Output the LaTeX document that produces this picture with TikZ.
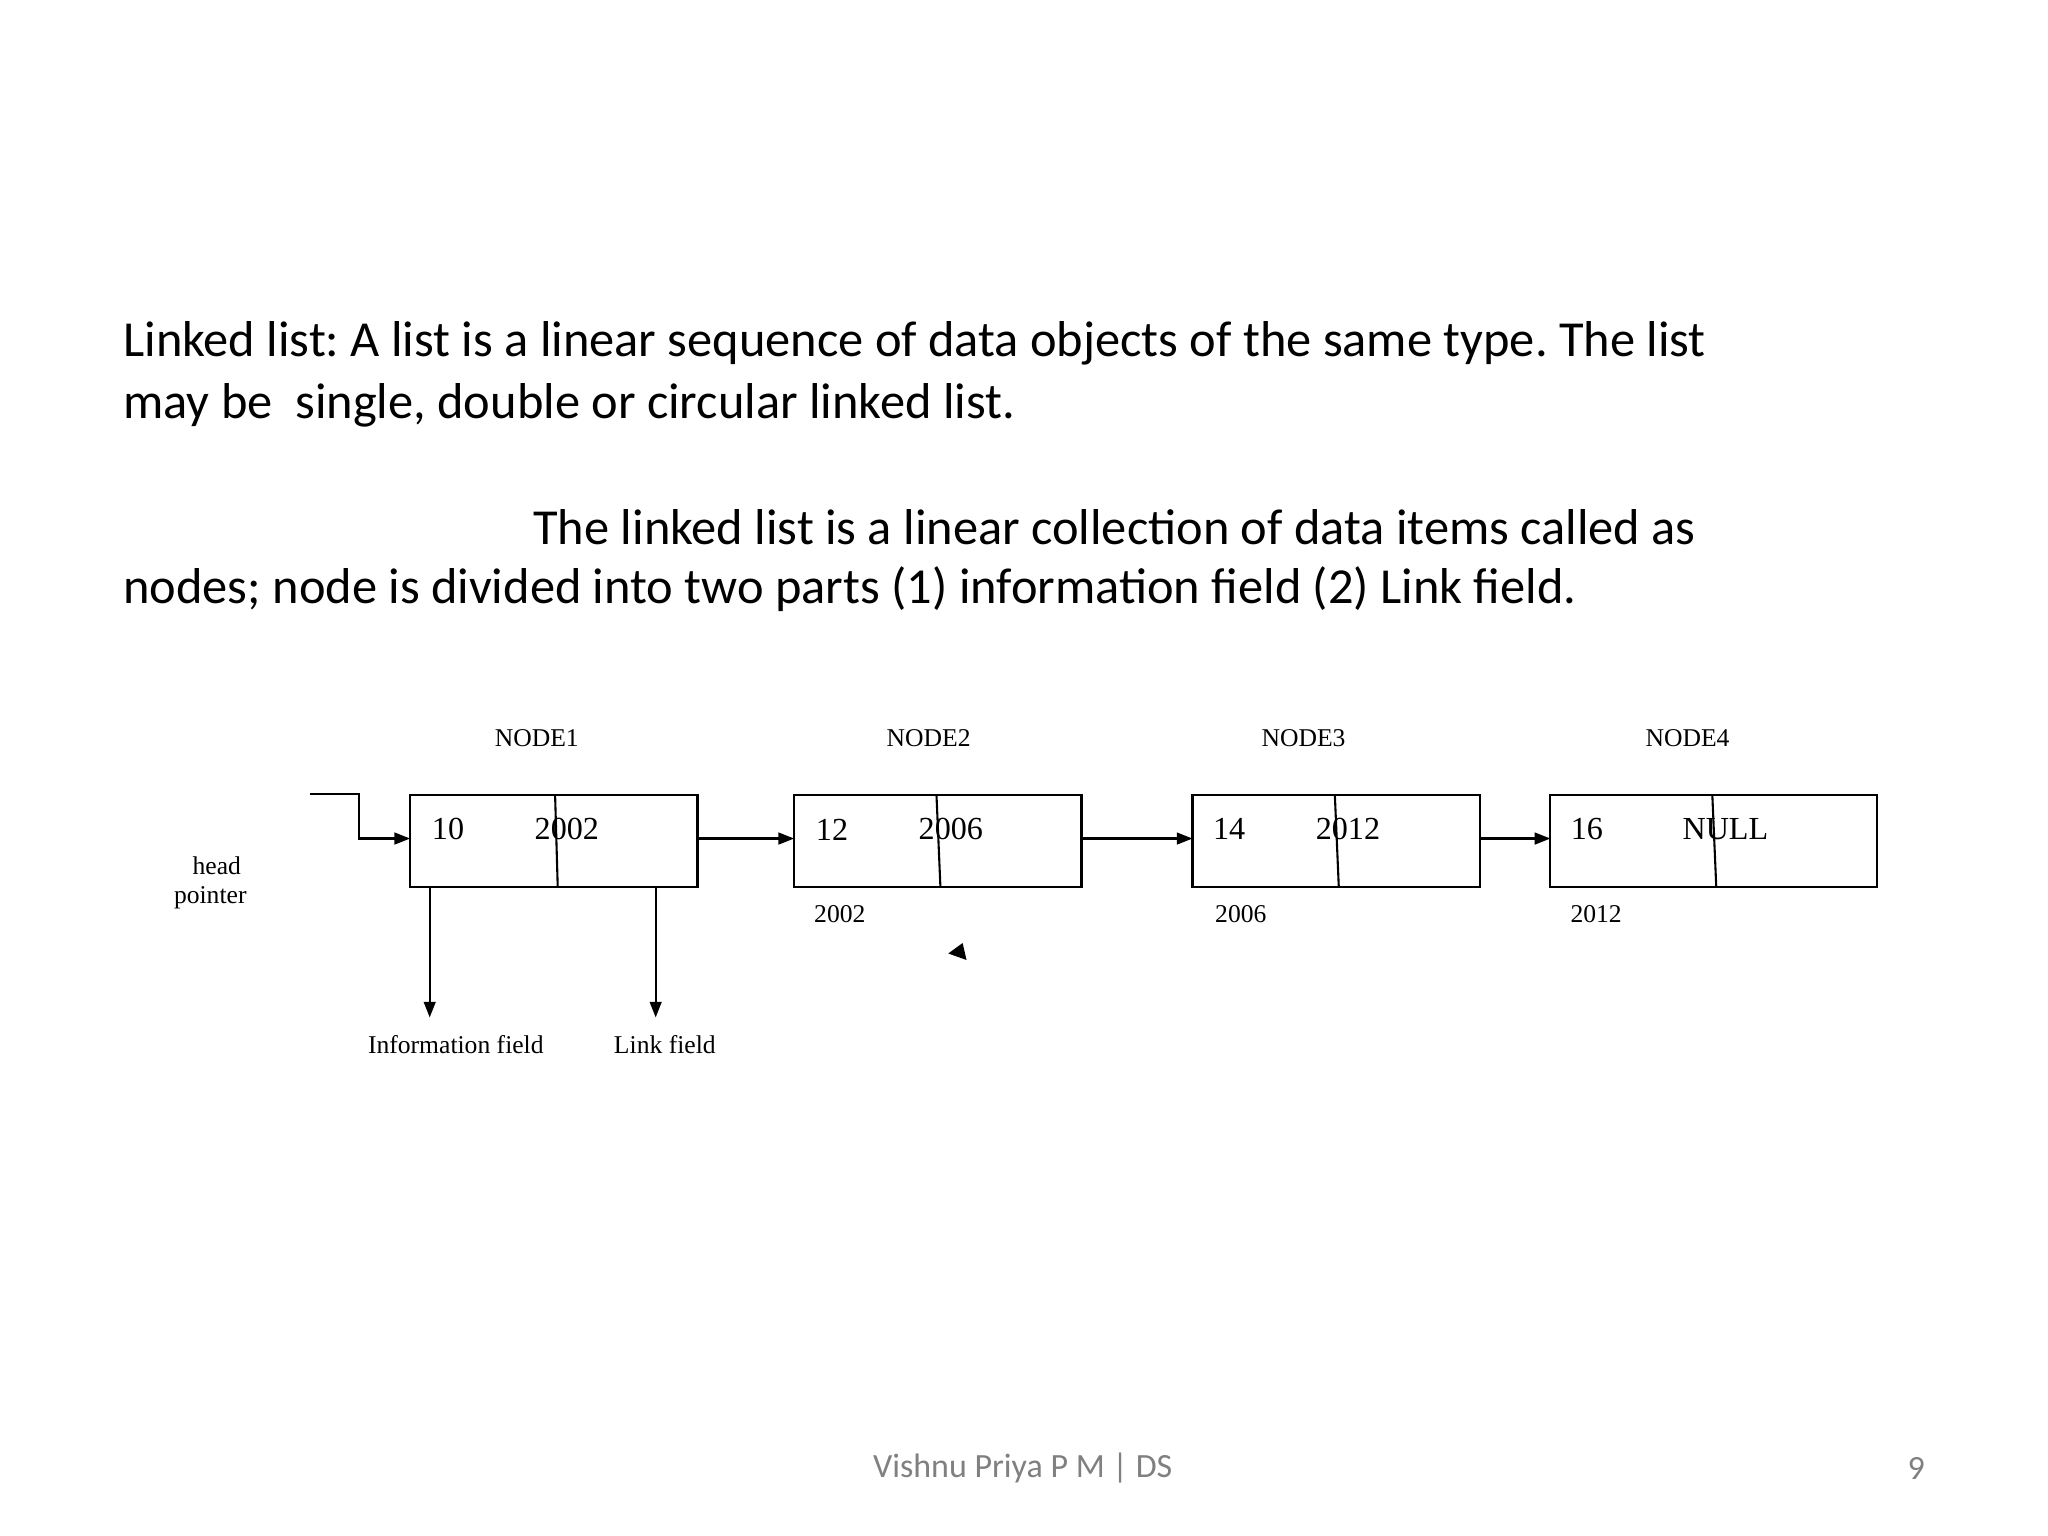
\documentclass[tikz,border=0pt]{standalone}
\usepackage{fontspec}
\setmainfont{Carlito}
\newfontfamily\tms{Liberation Serif}
\usetikzlibrary{arrows.meta}
\begin{document}
\frenchspacing
\begin{tikzpicture}[x=0.5pt,y=-0.5pt,
  body/.style={anchor=west,inner sep=0,font=\fontsize{19.3}{20}\selectfont},
  sm/.style={inner sep=0,font=\tms\fontsize{9.8}{10}\selectfont},
  big/.style={inner sep=0,font=\tms\fontsize{12.3}{13}\selectfont},
  box/.style={draw,line width=0.8pt},
  arr/.style={-{Triangle[length=6pt,width=4.5pt]},line width=0.8pt}]
\useasboundingbox (0,0) rectangle (1568,1176);
\node[body] (t1) at (94,263) {Linked list: A list is a linear sequence of data objects of the same type. The list};
\node[body] (t2) at (94,310) {may be\ \ single, double or circular linked list.};
\node[body] (t3) at (408,404) {The linked list is a linear collection of data items called as};
\node[body] (t4) at (94,451) {nodes; node is divided into two parts (1) information field (2) Link field.};
% boxes
\foreach \n/\a/\b/\d/\e in {1/314/534/425/427,2/608/828/717/720,3/913/1133/1022/1025,4/1187/1437/1311/1314}{
  \draw[box] (\a,609) rectangle (\b,679);
  \draw[line width=0.8pt] (\d,609) -- (\e,679);
  \coordinate (L\n) at (\a,642);
  \coordinate (R\n) at (\b,642);
}
\draw[arr] (R1) -- (L2);
\draw[arr] (R2) -- (L3);
\draw[arr] (R3) -- (L4);
\coordinate (hp) at (237,608);
\draw[arr] (hp) -- (275,608) -- (275,642) -- (L1);
\node[big] (a1) at (343,635) {10};
\node[big] (b1) at (434,635) {2002};
\node[big] (a2) at (637,635) {12};
\node[big] (b2) at (728,635) {2006};
\node[big] (a3) at (941,635) {14};
\node[big] (b3) at (1032,635) {2012};
\node[big] (a4) at (1215,635) {16};
\node[big] (b4) at (1321,635) {NULL};
\node[sm] (n1) at (411,565) {NODE1};
\node[sm] (n2) at (711,565) {NODE2};
\node[sm] (n3) at (998,565) {NODE3};
\node[sm] (n4) at (1292,565) {NODE4};
\node[sm] (d2) at (643,700) {2002};
\node[sm] (d3) at (950,700) {2006};
\node[sm] (d4) at (1222,700) {2012};
\node[sm] (h1) at (166,663) {head};
\node[sm] (h2) at (161,687) {pointer};
\coordinate (i0) at (329,679); \coordinate (i1) at (329,779);
\coordinate (k0) at (502,679); \coordinate (k1) at (502,779);
\draw[arr] (i0) -- (i1);
\draw[arr] (k0) -- (k1);
\node[sm] (inf) at (349,800) {Information field};
\node[sm] (lnk) at (509,800) {Link field};
\fill (726,730) -- (737,722) -- (740,735) -- cycle;
\node[inner sep=0,text=gray,font=\fontsize{13}{14}\selectfont] (f1) at (783,1124) {Vishnu Priya P M | DS};
\node[inner sep=0,text=gray,font=\fontsize{13}{14}\selectfont] (f2) at (1467,1124) {9};
\end{tikzpicture}
\end{document}
